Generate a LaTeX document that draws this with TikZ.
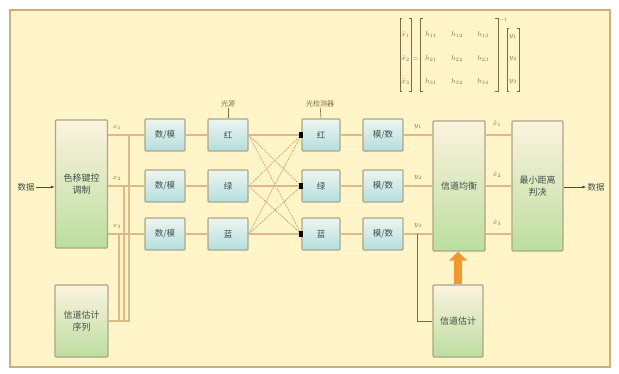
\documentclass[tikz,border=0pt]{standalone}
\usepackage{fontspec}
\newfontfamily\cjk{Noto Sans CJK SC}
\usetikzlibrary{arrows.meta}
\definecolor{framec}{RGB}{205,175,125}
\definecolor{creamc}{RGB}{255,245,200}
\definecolor{pipec}{RGB}{220,185,135}
\definecolor{edgec}{RGB}{175,165,135}
\definecolor{txtc}{RGB}{65,78,75}
\definecolor{labc}{RGB}{130,105,70}
\definecolor{crossc}{RGB}{215,150,95}
\definecolor{orangec}{RGB}{242,150,50}
\definecolor{smtop}{RGB}{238,246,240}
\definecolor{smbot}{RGB}{180,222,222}
\definecolor{bgtop}{RGB}{252,243,222}
\definecolor{bgmid}{RGB}{238,240,205}
\definecolor{bgbot}{RGB}{188,222,160}
\begin{document}
\begin{tikzpicture}[x=1pt,y=-1pt,
  smallbox/.style={draw=edgec, line width=1.4pt, rounded corners=1pt,
    top color=smtop, bottom color=smbot, minimum width=40pt, minimum height=32pt,
    inner sep=0pt, text=txtc, font=\cjk\fontsize{8.5}{10}\selectfont},
  bigbox/.style={draw=edgec, line width=1.4pt, rounded corners=1pt,
    top color=bgtop, middle color=bgmid, bottom color=bgbot, minimum width=52pt,
    inner sep=0pt, align=center, text=txtc, font=\cjk\fontsize{9}{12}\selectfont},
  pipe/.style={draw=pipec, line width=2.6pt},
  thinline/.style={draw=labc, line width=0.6pt},
  crossline/.style={draw=crossc, line width=0.6pt, dash pattern=on 2pt off 1pt},
  lab/.style={text=labc, font=\fontsize{7.5}{8}\selectfont, inner sep=0.5pt},
  cjklab/.style={text=labc, font=\cjk\fontsize{7}{8}\selectfont, inner sep=0.5pt},
  io/.style={text=txtc, font=\cjk\fontsize{8.5}{9}\selectfont, inner sep=1pt},
  sq/.style={fill=black, minimum width=4pt, minimum height=6pt, inner sep=0pt},
  brk/.style={draw=labc, line width=0.8pt}
]
\useasboundingbox (0,0) rectangle (619,374);
\fill[white] (0,0) rectangle (619,374);
\draw[framec, line width=2.5pt, fill=creamc] (10,10) rectangle (610,367);

% nodes
\node[io] (in) at (26,187) {数据};
\node[bigbox, minimum height=128pt] (csk) at (81.5,184) {色移键控\\调制};
\node[bigbox, minimum height=72pt, minimum width=53pt] (est1) at (81.5,321) {信道估计\\序列};

\foreach \i/\y in {1/135,2/186,3/234}{
  \node[smallbox] (da\i) at (165,\y) {数/模};
  \node[smallbox] (ad\i) at (383,\y) {模/数};
}
\node[smallbox] (led1) at (228,135) {红};
\node[smallbox] (led2) at (228,186) {绿};
\node[smallbox] (led3) at (228,234) {蓝};
\node[smallbox, minimum width=38pt] (pd1) at (321,135) {红};
\node[smallbox, minimum width=38pt] (pd2) at (321,186) {绿};
\node[smallbox, minimum width=38pt] (pd3) at (321,234) {蓝};

\node[bigbox, minimum height=130pt] (eq) at (459,186) {信道均衡};
\node[bigbox, minimum height=130pt, minimum width=51pt] (md) at (537.5,186) {最小距离\\判决};
\node[io] (out) at (596,187) {数据};
\node[bigbox, minimum height=72pt, minimum width=50pt] (est2) at (458,321) {信道估计};

% top labels
\node[cjklab] (src) at (228,104) {光源};
\node[cjklab] (det) at (320,104) {光检测器};
\draw[thinline] (src) -- (led1.north);
\draw[thinline] (det) -- (pd1.north);

% cross talk
\foreach \i in {1,2,3}{
  \foreach \j in {1,2,3}{
    \ifnum\i=\j\else
      \draw[crossline] (led\i.east) -- (pd\j.west);
    \fi
  }
}

% main pipes
\foreach \i in {1,2,3}{
  \draw[pipe] (csk.east |- da\i.west) -- (da\i.west);
  \draw[pipe] (da\i) -- (led\i);
  \draw[pipe] (led\i.east) -- (pd\i.west);
  \draw[pipe] (pd\i) -- (ad\i);
  \draw[pipe] (ad\i.east) -- (eq.west |- ad\i.east);
  \draw[pipe] (eq.east |- ad\i.east) -- (md.west |- ad\i.east);
  \node[sq] (s\i) at (pd\i.west) {};
}

% training / estimation feed lines
\coordinate (j1) at (129,135);
\coordinate (j2) at (124,186);
\coordinate (j3) at (119,234);
\draw[draw=pipec, line width=1.6pt] (est1.east) -| (j1);
\draw[draw=pipec, line width=1.6pt] (est1.east) -| (j2);
\draw[draw=pipec, line width=1.6pt] (est1.east) -| (j3);

% tap to receiver channel estimation
\coordinate (t) at (417,234);
\draw[thinline] (t) |- (est2.west);

% orange arrow
\draw[orangec, line width=8pt, -{Triangle[width=18pt,length=9pt]}] (est2.north) -- (est2.north |- eq.south);

% in / out arrows
\draw[draw=txtc, line width=0.7pt, -{Latex[length=4pt,width=3pt]}] (in.east) -- (csk.west |- in.east);
\draw[draw=txtc, line width=0.7pt, -{Latex[length=4pt,width=3pt]}] (md.east |- out.west) -- (out.west);

% signal labels
\node[lab] (x1) at (117,127) {$x_1$};
\node[lab] (x2) at (117,178) {$x_2$};
\node[lab] (x3) at (117,226) {$x_3$};
\node[lab] (y1) at (418,127) {$y_1$};
\node[lab] (y2) at (418,178) {$y_2$};
\node[lab] (y3) at (418,226) {$y_3$};
\node[lab] (h1) at (497,124) {$\hat{x}_1$};
\node[lab] (h2) at (497,175) {$\hat{x}_2$};
\node[lab] (h3) at (497,223) {$\hat{x}_3$};

% matrix equation
% left vector
\draw[brk] (402,18) -- (400,18) -- (400,91) -- (402,91);
\draw[brk] (409,18) -- (411,18) -- (411,91) -- (409,91);
\node[lab] (v1) at (405.5,35) {$\hat{x}_1$};
\node[lab] (v2) at (405.5,59) {$\hat{x}_2$};
\node[lab] (v3) at (405.5,82) {$\hat{x}_3$};
\node[lab, font=\fontsize{6}{6}\selectfont] (eqs) at (415.5,59) {$=$};
% matrix
\draw[brk] (423,18) -- (420,18) -- (420,91) -- (423,91);
\draw[brk] (495,18) -- (498,18) -- (498,91) -- (495,91);
\node[lab, font=\fontsize{5.5}{6}\selectfont] (inv) at (503,20) {$-1$};
\foreach \r/\yy in {1/35,2/59,3/82}{
  \foreach \c/\xx in {1/431,2/457,3/483}{
    \node[lab] (m\r\c) at (\xx,\yy) {$h_{\r\c}$};
  }
}
% right vector
\draw[brk] (509,28) -- (507,28) -- (507,91) -- (509,91);
\draw[brk] (517,28) -- (519,28) -- (519,91) -- (517,91);
\node[lab] (w1) at (513,37) {$y_1$};
\node[lab] (w2) at (513,59) {$y_2$};
\node[lab] (w3) at (513,82) {$y_3$};
\end{tikzpicture}
\end{document}
